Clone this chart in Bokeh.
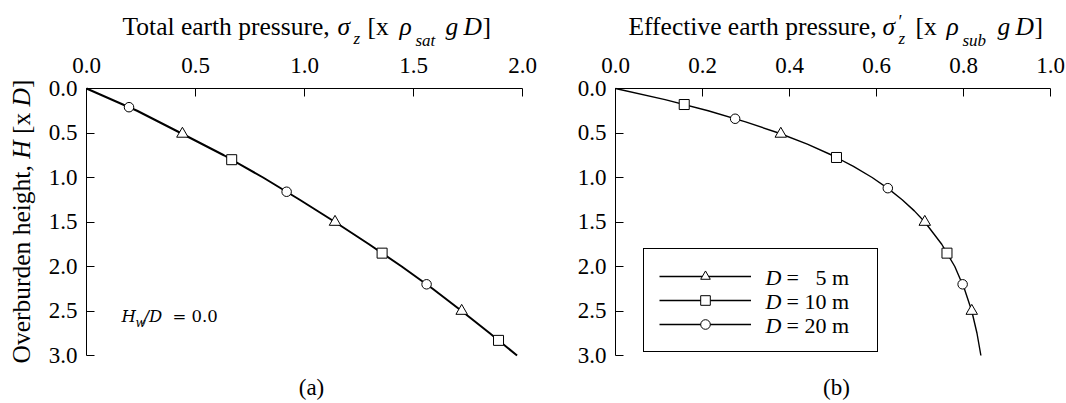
import math
from bokeh.plotting import figure
from bokeh.models import Range1d, FixedTicker, Label, Legend, LegendItem
from bokeh.core.properties import value
from bokeh.layouts import row
from bokeh.embed import file_html
from bokeh.resources import INLINE

# ---------------- data ----------------
# (a) total earth pressure  sigma_z [x rho_sat g D]  vs overburden height H [x D]
H_total = [0, 0.25, 0.5, 0.75, 1.0, 1.25, 1.5, 1.75, 2.0, 2.25, 2.5, 2.75, 3.0]
sig_total = [0, 0.232, 0.432, 0.63, 0.81, 0.978, 1.14, 1.296, 1.446, 1.588, 1.721, 1.85, 1.975]
tot_D5_H = [0.51, 1.5, 2.5]
tot_D5_s = [0.44, 1.14, 1.721]
tot_D10_H = [0.80, 1.85, 2.83]
tot_D10_s = [0.666, 1.356, 1.89]
tot_D20_H = [0.21, 1.16, 2.2]
tot_D20_s = [0.195, 0.918, 1.56]

# (b) effective earth pressure sigma'_z [x rho_sub g D]
H_eff = [0, 0.125, 0.25, 0.375, 0.5, 0.625, 0.75, 0.875, 1.0, 1.125, 1.25, 1.375,
         1.5, 1.75, 2.0, 2.25, 2.5, 2.75, 3.0]
sig_eff = [0, 0.114, 0.213, 0.299, 0.375, 0.441, 0.498, 0.547, 0.590, 0.627, 0.659, 0.687,
           0.711, 0.750, 0.780, 0.802, 0.819, 0.831, 0.840]
eff_D5_H = [0.51, 1.5, 2.5]
eff_D5_s = [0.38, 0.711, 0.819]
eff_D10_H = [0.18, 0.775, 1.85]
eff_D10_s = [0.158, 0.508, 0.762]
eff_D20_H = [0.34, 1.12, 2.2]
eff_D20_s = [0.275, 0.626, 0.798]

x_ticks_a = [0.0, 0.5, 1.0, 1.5, 2.0]
x_ticks_b = [0.0, 0.2, 0.4, 0.6, 0.8, 1.0]
y_ticks = [0.0, 0.5, 1.0, 1.5, 2.0, 2.5, 3.0]
legend_D = ["5", "10", "20"]

SERIF = "Liberation Serif"
MATH = "DejaVu Serif"
TICK_FS = 23

HEIGHT = 403
# layout geometry (window pixels): frame origin and pixel-per-unit scales
A_X0, A_SX = 86.0, 218.0      # panel (a): x=0 at 86px, 218 px per unit
B_X0, B_SX = 615.0, 435.0     # panel (b): x=0 at 615px, 435 px per unit
Y0, SY = 88.0, 89.0           # both: H=0 at 88px, 89 px per unit
W_A, W_B = 560, 506
MID = 0.34                    # em offset from baseline to text middle


def Lx(px): return (px - A_X0) / A_SX
def Rx(px): return (px - B_X0) / B_SX
def Yy(py): return (py - Y0) / SY
def Ypx(h): return Y0 + h * SY


def lab(p, cx, px, py, text, size, style="normal", font=SERIF, angle=0.0, align="left"):
    """(px, py) = baseline start point in window pixels."""
    k = MID * size
    if angle:
        px -= k
    else:
        py -= k
    p.add_layout(Label(x=cx(px), y=Yy(py), text=text, text_font=font,
                       text_font_size=f"{size}px", text_font_style=style,
                       text_align=align, text_baseline="middle",
                       angle=angle, text_color="black", level="overlay"))


def make_fig(width, cx, x0, sx, xticks, xmax, left_px):
    p = figure(width=width, height=HEIGHT,
               x_range=Range1d(cx(left_px), cx(left_px + width)),
               y_range=Range1d(Yy(HEIGHT), Yy(0)),
               x_axis_location="above", output_backend="svg", toolbar_location=None,
               min_border=0, min_border_left=0, min_border_right=0,
               min_border_top=0, min_border_bottom=0)
    p.outline_line_color = None
    p.grid.visible = False
    p.background_fill_color = "white"
    p.border_fill_color = "white"
    for ax in p.axis:
        ax.fixed_location = 0
        ax.axis_line_color = "black"
        ax.axis_line_width = 1
        ax.major_tick_line_color = "black"
        ax.major_tick_in = 8
        ax.major_tick_out = 0
        ax.minor_tick_line_color = None
        ax.major_label_text_font_size = "0px"
        ax.major_label_text_alpha = 0
    p.xaxis.ticker = FixedTicker(ticks=xticks)
    p.yaxis.ticker = FixedTicker(ticks=y_ticks)
    p.xaxis.major_label_overrides = {t: "" for t in xticks}
    p.yaxis.major_label_overrides = {t: "" for t in y_ticks}
    p.xaxis.bounds = (0, xmax)
    p.yaxis.bounds = (0, 3.0)
    # tick labels in the serif face, placed at the tick values
    for t in xticks:
        lab(p, cx, x0 + t * sx, Y0 - 15, f"{t:.1f}", TICK_FS, align="center")
    for t in y_ticks:
        lab(p, cx, x0 - 9, Ypx(t) + 7.8, f"{t:.1f}", TICK_FS, align="right")
    return p


mk = dict(fill_color="white", line_color="black", line_width=1)

# ---------------- panel (a) ----------------
p1 = make_fig(W_A, Lx, A_X0, A_SX, x_ticks_a, 2.0, 0)
p1.line(sig_total, H_total, line_color="black", line_width=2)
p1.scatter(tot_D5_s, tot_D5_H, marker="triangle", size=11.5, **mk)
p1.scatter(tot_D10_s, tot_D10_H, marker="square", size=10, **mk)
p1.scatter(tot_D20_s, tot_D20_H, marker="circle", size=9.5, **mk)

for t, px, py, sz, st in [("Total earth pressure,", 122, 35, 25.5, "normal"),
                          ("σ", 337, 35, 25.5, "italic"),
                          ("z", 353, 44, 17, "italic"),
                          ("[x", 367, 35, 25.5, "normal"),
                          ("ρ", 399, 35, 25.5, "italic"),
                          ("sat", 415, 46, 17, "italic"),
                          ("g", 445, 35, 25.5, "italic"),
                          ("D", 463, 35, 25.5, "italic"),
                          ("]", 482, 35, 25.5, "normal")]:
    lab(p1, Lx, px, py, t, sz, st)

for t, py, st in [("Overburden height,", 363, "normal"), ("H", 158.3, "italic"),
                  ("[x", 133.5, "normal"), ("D", 105.9, "italic"), ("]", 87.5, "normal")]:
    lab(p1, Lx, 30, py, t, 25.5, st, angle=math.pi / 2)

for t, px, py, sz, st in [("H", 121, 322, 16.5, "italic"), ("w", 135, 327, 12, "italic"),
                          ("/D", 143, 322, 16.5, "italic"), ("= 0.0", 172, 322, 16.5, "normal")]:
    lab(p1, Lx, px, py, t, sz, st, font=MATH)

lab(p1, Lx, 311, 395, "(a)", 23, align="center")

# ---------------- panel (b) ----------------
p2 = make_fig(W_B, Rx, B_X0, B_SX, x_ticks_b, 1.0, W_A)
lr = p2.line(sig_eff, H_eff, line_color="black", line_width=1.4)
s5 = p2.scatter(eff_D5_s, eff_D5_H, marker="triangle", size=11.5, **mk)
s10 = p2.scatter(eff_D10_s, eff_D10_H, marker="square", size=10, **mk)
s20 = p2.scatter(eff_D20_s, eff_D20_H, marker="circle", size=9.5, **mk)

legend = Legend(items=[LegendItem(label=value(" "), renderers=[lr, s5]),
                       LegendItem(label=value(" "), renderers=[lr, s10]),
                       LegendItem(label=value(" "), renderers=[lr, s20])],
                location=(643 - W_A, HEIGHT - 352), orientation="vertical",
                glyph_width=92, glyph_height=24, spacing=0, padding=15,
                label_width=106, label_standoff=5, margin=0,
                label_text_font_size="10px", border_line_color="black", border_line_width=1,
                border_line_alpha=1.0, background_fill_color="white", background_fill_alpha=0.0)
p2.add_layout(legend)

for i, d in enumerate(legend_D):
    py = 284 + 24 * i
    lab(p2, Rx, 765, py, "D", 22, "italic")
    txt = "= \u2007" + d + " m" if len(d) == 1 else "= " + d + " m"
    lab(p2, Rx, 786, py, txt, 22, "normal")

for t, px, py, sz, st in [("Effective earth pressure,", 628, 35, 25.5, "normal"),
                          ("σ", 882, 35, 25.5, "italic"),
                          ("′", 898, 28, 18, "normal"),
                          ("z", 898, 44, 17, "italic"),
                          ("[x", 915, 35, 25.5, "normal"),
                          ("ρ", 946, 35, 25.5, "italic"),
                          ("sub", 962, 46, 17, "italic"),
                          ("g", 997, 35, 25.5, "italic"),
                          ("D", 1015, 35, 25.5, "italic"),
                          ("]", 1034, 35, 25.5, "normal")]:
    lab(p2, Rx, px, py, t, sz, st)

lab(p2, Rx, 836, 395, "(b)", 23, align="center")

layout = row(p1, p2)
open("out.html", "w").write(file_html(layout, INLINE))
